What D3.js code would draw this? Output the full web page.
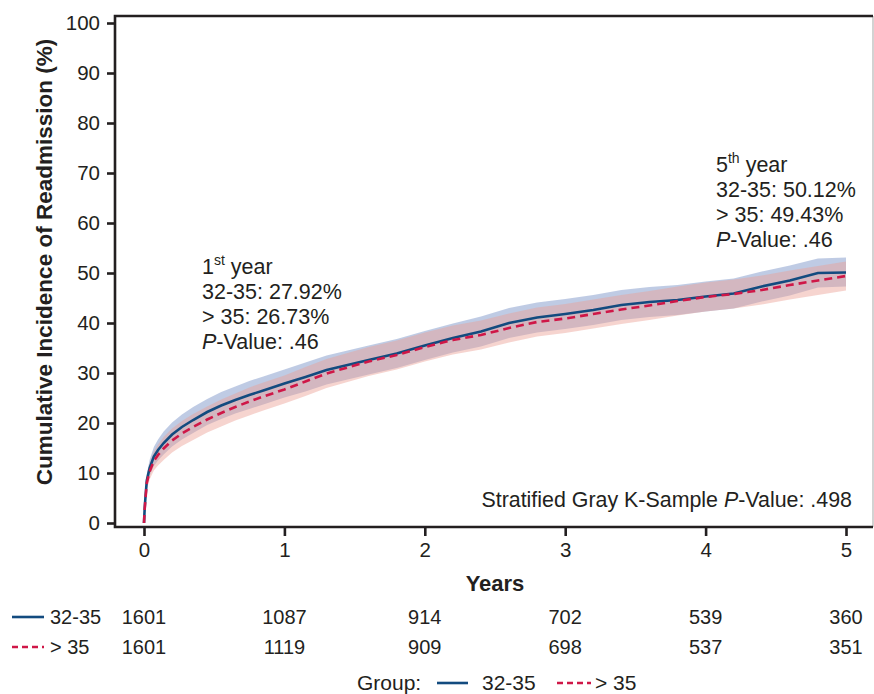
<!DOCTYPE html>
<html>
<head>
<meta charset="utf-8">
<script src="https://cdn.jsdelivr.net/npm/d3@7"></script>
<style>
  body { margin: 0; background: #fff; }
  svg text { font-family: "Liberation Sans", Arial, sans-serif; fill: #231f20; }
</style>
</head>
<body>
<div id="chart"></div>
<script>
const width = 874;
const height = 694;

// temps (années)
const times = [0, 0.005, 0.01, 0.02, 0.04, 0.07, 0.1, 0.14, 0.2, 0.27, 0.35, 0.45, 0.55, 0.65, 0.75, 0.85,
  1.0, 1.15, 1.3, 1.45, 1.6, 1.8, 2.0, 2.2, 2.4, 2.6, 2.8, 3.0, 3.2, 3.4, 3.6, 3.8, 4.0, 4.2, 4.4, 4.6, 4.8, 5.0];

// groupe 32-35
const blueEst = [0, 3, 5, 8.5, 11, 13.3, 14.6, 16, 17.7, 19.2, 20.6, 22.2, 23.5, 24.6, 25.6, 26.5,
  27.9, 29.2, 30.6, 31.6, 32.6, 33.9, 35.5, 37.0, 38.3, 40.0, 41.1, 41.8, 42.6, 43.6, 44.2, 44.6, 45.3, 45.9, 47.3, 48.5, 50.0, 50.1];
const blueUpper = [0, 3.6, 5.9, 9.8, 12.6, 15.2, 16.7, 18.3, 20.1, 21.7, 23.2, 24.8, 26.2, 27.3, 28.4, 29.3,
  30.7, 32.1, 33.5, 34.5, 35.5, 36.8, 38.4, 39.9, 41.3, 43.0, 44.1, 44.8, 45.6, 46.6, 47.2, 47.6, 48.3, 48.9, 50.3, 51.5, 52.9, 53.1];
const blueLower = [0, 2.4, 4.1, 7.2, 9.4, 11.4, 12.5, 13.7, 15.3, 16.7, 18.0, 19.6, 20.8, 21.9, 22.8, 23.7,
  25.1, 26.3, 27.7, 28.7, 29.7, 31.0, 32.6, 34.1, 35.3, 37.0, 38.1, 38.8, 39.6, 40.6, 41.2, 41.6, 42.3, 42.9, 44.3, 45.5, 47.1, 47.3];

// groupe > 35
const redEst = [0, 2.8, 4.7, 8, 10.3, 12.4, 13.6, 14.9, 16.5, 17.9, 19.2, 20.7, 22.0, 23.2, 24.3, 25.3,
  26.7, 28.3, 29.9, 31.1, 32.3, 33.6, 35.2, 36.6, 37.6, 39.0, 40.2, 40.9, 41.8, 42.7, 43.5, 44.4, 45.2, 45.8, 46.6, 47.6, 48.5, 49.4];
const redUpper = [0, 3.4, 5.6, 9.3, 11.9, 14.3, 15.7, 17.2, 18.9, 20.4, 21.8, 23.3, 24.7, 25.9, 27.1, 28.1,
  29.5, 31.2, 32.8, 34.0, 35.2, 36.5, 38.1, 39.5, 40.5, 41.9, 43.1, 43.8, 44.7, 45.6, 46.4, 47.3, 48.1, 48.7, 49.5, 50.5, 51.4, 52.3];
const redLower = [0, 2.2, 3.8, 6.7, 8.7, 10.5, 11.5, 12.6, 14.1, 15.4, 16.6, 18.1, 19.3, 20.5, 21.5, 22.5,
  23.9, 25.4, 27.0, 28.2, 29.4, 30.7, 32.3, 33.7, 34.7, 36.1, 37.3, 38.0, 38.9, 39.8, 40.6, 41.5, 42.3, 42.9, 43.7, 44.7, 45.6, 46.5];

// tableau des effectifs à risque
const riskTimes = [0, 1, 2, 3, 4, 5];
const riskBlue = [1601, 1087, 914, 702, 539, 360];
const riskRed = [1601, 1119, 909, 698, 537, 351];

const xTicks = [0, 1, 2, 3, 4, 5];
const yTicks = [0, 10, 20, 30, 40, 50, 60, 70, 80, 90, 100];

const blueColor = "#134b7f";
const redColor = "#cf1747";

const svg = d3.select("#chart")
  .append("svg")
  .attr("width", width)
  .attr("height", height);

// cadre du graphique
const frame = { left: 115, right: 873, top: 16, bottom: 527 };

const x = d3.scaleLinear().domain([0, 5]).range([144, 846]);
const y = d3.scaleLinear().domain([0, 100]).range([523, 23]);

// bandes de confiance
const area = (lo, hi) => d3.area()
  .x((d, i) => x(times[i]))
  .y0((d, i) => y(lo[i]))
  .y1((d, i) => y(hi[i]));

svg.append("path")
  .attr("d", area(blueLower, blueUpper)(times))
  .attr("fill", "#94a9d2")
  .attr("fill-opacity", 0.6);

svg.append("path")
  .attr("d", area(redLower, redUpper)(times))
  .attr("fill", "#ec9f94")
  .attr("fill-opacity", 0.45);

const line = vals => d3.line()
  .x((d, i) => x(times[i]))
  .y((d, i) => y(vals[i]));

svg.append("path")
  .attr("d", line(blueEst)(times))
  .attr("fill", "none")
  .attr("stroke", blueColor)
  .attr("stroke-width", 2.6);

svg.append("path")
  .attr("d", line(redEst)(times))
  .attr("fill", "none")
  .attr("stroke", redColor)
  .attr("stroke-width", 2.6)
  .attr("stroke-dasharray", "8,5");

// cadre
svg.append("line")
  .attr("x1", frame.right).attr("x2", frame.right)
  .attr("y1", frame.top).attr("y2", frame.bottom)
  .attr("stroke", "#b5b5b5").attr("stroke-width", 1.2);
svg.append("path")
  .attr("d", `M${frame.right},${frame.top}H${frame.left}V${frame.bottom}H${frame.right}`)
  .attr("fill", "none")
  .attr("stroke", "#231f20")
  .attr("stroke-width", 2.6);

// axes
const yAxis = svg.append("g")
  .attr("transform", `translate(${frame.left},0)`)
  .call(d3.axisLeft(y).tickValues(yTicks).tickSize(8).tickPadding(7));
const xAxis = svg.append("g")
  .attr("transform", `translate(0,${frame.bottom})`)
  .call(d3.axisBottom(x).tickValues(xTicks).tickFormat(d3.format("d")).tickSize(9).tickPadding(6));

[yAxis, xAxis].forEach(g => {
  g.select(".domain").remove();
  g.selectAll(".tick line").attr("stroke", "#231f20").attr("stroke-width", 2.6);
  g.selectAll(".tick text").attr("font-size", 20.5).attr("fill", "#231f20")
    .style("font-family", "'Liberation Sans', Arial, sans-serif");
});

svg.append("text")
  .attr("transform", "translate(52,262) rotate(-90)")
  .attr("text-anchor", "middle")
  .attr("font-size", 22.5)
  .attr("font-weight", "bold")
  .text("Cumulative Incidence of Readmission (%)");

svg.append("text")
  .attr("x", 495).attr("y", 591)
  .attr("text-anchor", "middle")
  .attr("font-size", 22)
  .attr("font-weight", "bold")
  .text("Years");

// annotations
function note(x0, y0, ordinal, sup, l1, l2, pval) {
  const g = svg.append("g").attr("font-size", 21.5);
  const t = g.append("text").attr("x", x0).attr("y", y0);
  t.append("tspan").text(ordinal);
  t.append("tspan").attr("font-size", 14).attr("dy", -9).text(sup);
  t.append("tspan").attr("dy", 9).text(" year");
  g.append("text").attr("x", x0).attr("y", y0 + 25).text(l1);
  g.append("text").attr("x", x0).attr("y", y0 + 50).text(l2);
  const p = g.append("text").attr("x", x0).attr("y", y0 + 75);
  p.append("tspan").attr("font-style", "italic").text("P");
  p.append("tspan").text("-Value: " + pval);
}
note(202, 274, "1", "st", "32-35: 27.92%", "> 35: 26.73%", ".46");
note(716, 172, "5", "th", "32-35: 50.12%", "> 35: 49.43%", ".46");

const strat = svg.append("text")
  .attr("x", 852).attr("y", 507)
  .attr("text-anchor", "end")
  .attr("font-size", 21.4);
strat.append("tspan").text("Stratified Gray K-Sample ");
strat.append("tspan").attr("font-style", "italic").text("P");
strat.append("tspan").text("-Value: .498");

// tableau à risque
const rows = [
  { label: "32-35", values: riskBlue, color: blueColor, dash: null, yy: 624 },
  { label: "> 35", values: riskRed, color: redColor, dash: "6,4", yy: 654 }
];
rows.forEach(r => {
  svg.append("line")
    .attr("x1", 12).attr("x2", 44)
    .attr("y1", r.yy - 7).attr("y2", r.yy - 7)
    .attr("stroke", r.color).attr("stroke-width", 2.6)
    .attr("stroke-dasharray", r.dash);
  svg.append("text").attr("x", 50).attr("y", r.yy)
    .attr("font-size", 20).text(r.label);
  svg.selectAll(null)
    .data(r.values)
    .join("text")
    .attr("x", (d, i) => x(riskTimes[i]))
    .attr("y", r.yy)
    .attr("text-anchor", "middle")
    .attr("font-size", 20)
    .text(d => d);
});

// légende
const leg = svg.append("g").attr("font-size", 21);
leg.append("text").attr("x", 357).attr("y", 690).text("Group:");
leg.append("line").attr("x1", 437).attr("x2", 468).attr("y1", 683).attr("y2", 683)
  .attr("stroke", blueColor).attr("stroke-width", 2.6);
leg.append("text").attr("x", 482).attr("y", 690).text("32-35");
leg.append("line").attr("x1", 557).attr("x2", 591).attr("y1", 683).attr("y2", 683)
  .attr("stroke", redColor).attr("stroke-width", 2.6).attr("stroke-dasharray", "6,4");
leg.append("text").attr("x", 595).attr("y", 690).text("> 35");
</script>
</body>
</html>
